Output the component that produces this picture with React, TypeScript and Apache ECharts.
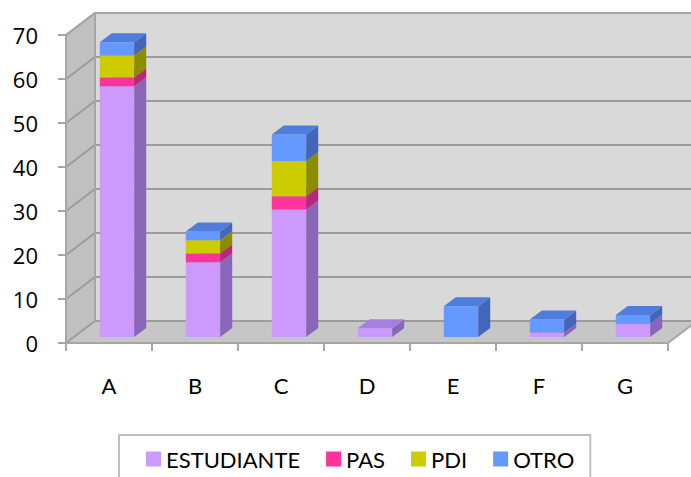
import React, { useEffect, useRef } from "react";
import * as echarts from "echarts";

const categories = ["A", "B", "C", "D", "E", "F", "G"];
const estudiante = [57, 17, 29, 2, 0, 1, 3];
const pas = [2, 2, 3, 0, 0, 0, 0];
const pdi = [5, 3, 8, 0, 0, 0, 0];
const otro = [3, 2, 6, 0, 7, 3, 2];
const seriesNames = ["ESTUDIANTE", "PAS", "PDI", "OTRO"];
const yTicks = [0, 10, 20, 30, 40, 50, 60, 70];

const FRONT = ["#cc99ff", "#ff3399", "#cccc00", "#6699ff"];
const SIDE = ["#8a66b8", "#b8287a", "#8c8c00", "#4466b8"];
const TOP = ["#a680e0", "#e02e88", "#b0b000", "#4f7ddd"];

const DX = 29;
const DY = -22;
const FONT = "Lato, 'Open Sans', sans-serif";
const NUM_FONT = "'Open Sans', Lato, sans-serif";

export default function App() {
  const ref = useRef<HTMLDivElement>(null);

  useEffect(() => {
    if (!ref.current) return;
    const chart = echarts.init(ref.current, undefined, { renderer: "svg" });
    const values = [estudiante, pas, pdi, otro];

    const makeBarRender = (si: number) => (params: any, api: any) => {
      const cat = api.value(0);
      const val = api.value(1);
      const base = api.value(2);
      if (!val) return null;
      const top = api.coord([cat, base + val]);
      const bot = api.coord([cat, base]);
      const bw = api.size([1, 0])[0] * 0.4;
      const ox = 8, oy = -6, bx = 12, by = -9;
      const x1 = top[0] - bw / 2 + ox;
      const x2 = x1 + bw;
      const yT = top[1] + oy;
      const yB = bot[1] + oy;
      return {
        type: "group",
        children: [
          { type: "rect", shape: { x: x1, y: yT, width: bw, height: yB - yT }, style: { fill: FRONT[si] } },
          {
            type: "polygon",
            shape: { points: [[x2, yB], [x2, yT], [x2 + bx, yT + by], [x2 + bx, yB + by]] },
            style: { fill: SIDE[si] },
          },
          {
            type: "polygon",
            shape: { points: [[x1, yT], [x2, yT], [x2 + bx, yT + by], [x1 + bx, yT + by]] },
            style: { fill: TOP[si] },
          },
        ],
      };
    };

    const wallsRender = (params: any, api: any) => {
      const cs = params.coordSys;
      const x0 = cs.x;
      const x1 = cs.x + cs.width;
      const y0 = api.coord([0, yTicks[0]])[1];
      const yT = api.coord([0, yTicks[yTicks.length - 1]])[1];
      const xr = x1 + DX + 40;
      const children: any[] = [
        {
          type: "polygon",
          shape: { points: [[x0, y0], [x0, yT], [x0 + DX, yT + DY], [x0 + DX, y0 + DY]] },
          style: { fill: "#c0c0c0" },
        },
        {
          type: "polygon",
          shape: { points: [[x0 + DX, yT + DY], [xr, yT + DY], [xr, y0 + DY], [x0 + DX, y0 + DY]] },
          style: { fill: "#d9d9d9" },
        },
        {
          type: "polygon",
          shape: { points: [[x0, y0], [x1, y0], [x1 + DX, y0 + DY], [x0 + DX, y0 + DY]] },
          style: { fill: "#c6c6c6" },
        },
      ];
      yTicks.forEach((v) => {
        const y = api.coord([0, v])[1];
        children.push({
          type: "polyline",
          shape: { points: [[x0, y], [x0 + DX, y + DY], [xr, y + DY]] },
          style: { stroke: "#9c9c9c", lineWidth: 2, fill: null },
        });
      });
      children.push({
        type: "polyline",
        shape: { points: [[x0, yT], [x0 + DX, yT + DY], [xr, yT + DY]] },
        style: { stroke: "#a6a6a6", lineWidth: 2, fill: null },
      });
      children.push({
        type: "line",
        shape: { x1: x0 + DX, y1: yT + DY, x2: x0 + DX, y2: y0 + DY },
        style: { stroke: "#a6a6a6", lineWidth: 2 },
      });
      children.push({
        type: "line",
        shape: { x1: x1, y1: y0, x2: x1 + DX, y2: y0 + DY },
        style: { stroke: "#a6a6a6", lineWidth: 2 },
      });
      return { type: "group", children };
    };

    const barSeries = seriesNames.map((name, si) => ({
      name,
      type: "custom",
      coordinateSystem: "cartesian2d",
      clip: false,
      z: 3,
      itemStyle: { color: FRONT[si] },
      encode: { x: 0, y: 1 },
      renderItem: makeBarRender(si),
      data: categories.map((_, i) => {
        let base = 0;
        for (let k = 0; k < si; k++) base += values[k][i];
        return [i, values[si][i], base];
      }),
    }));

    chart.setOption({
      animation: false,
      backgroundColor: "#ffffff",
      grid: { left: 66, right: 23, top: 35, bottom: 134, containLabel: false },
      legend: {
        data: seriesNames,
        left: 119,
        top: 435,
        padding: [13, 16, 30, 27],
        borderColor: "#bfbfbf",
        borderWidth: 2,
        itemWidth: 15,
        itemHeight: 15,
        itemGap: 26,
        icon: "rect",
        textStyle: { fontSize: 22, fontFamily: FONT, color: "#000" },
      },
      xAxis: {
        type: "category",
        data: categories,
        boundaryGap: true,
        axisLine: { show: true, lineStyle: { color: "#a6a6a6", width: 2 } },
        axisTick: { show: true, length: 8, lineStyle: { color: "#a6a6a6", width: 2 } },
        axisLabel: { margin: 31, fontSize: 22, fontFamily: FONT, color: "#000" },
        splitLine: { show: false },
        z: 4,
      },
      yAxis: {
        type: "value",
        min: 0,
        max: 70,
        interval: 10,
        axisLine: { show: true, lineStyle: { color: "#a6a6a6", width: 2 } },
        axisTick: { show: true, length: 8, lineStyle: { color: "#a6a6a6", width: 2 } },
        axisLabel: { margin: 28, fontSize: 22, fontFamily: NUM_FONT, color: "#000" },
        splitLine: { show: false },
        z: 4,
      },
      series: [
        {
          name: "walls",
          type: "custom",
          coordinateSystem: "cartesian2d",
          clip: false,
          z: 1,
          silent: true,
          encode: { x: 0, y: 1 },
          renderItem: wallsRender,
          data: [[0, 0]],
        },
        ...barSeries,
      ],
    });
    return () => chart.dispose();
  }, []);

  return (
    <div
      ref={ref}
      style={{ position: "fixed", left: 0, top: 0, width: 691, height: 477, background: "#fff" }}
    />
  );
}
